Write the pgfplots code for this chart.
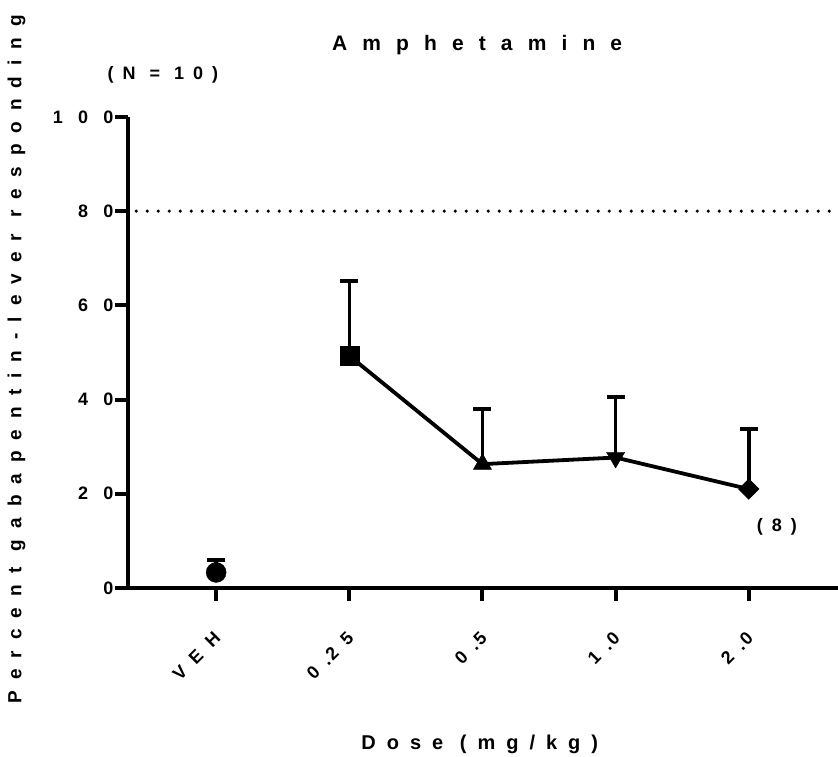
\documentclass[border=0pt]{standalone}
\usepackage{pgfplots}
\pgfplotsset{compat=1.18}
\usetikzlibrary{calc}
\usepackage{fontspec}
\setmainfont{Liberation Sans}
\newfontfamily\spA{Liberation Sans Bold}[LetterSpace=50]
\newfontfamily\spX{Liberation Sans Bold}[LetterSpace=60]
\newfontfamily\spYT{Liberation Sans Bold}[LetterSpace=85]
\newfontfamily\spB{Liberation Sans Bold}[LetterSpace=55]
\newfontfamily\spY{Liberation Sans Bold}[LetterSpace=58]
\newfontfamily\spT{Liberation Sans Bold}[LetterSpace=72]
\begin{document}
\begin{tikzpicture}
\begin{axis}[name=ax, scale only axis, width=710pt, height=471pt,
  xmin=-0.662, xmax=4.67, ymin=0, ymax=100,
  axis lines=left, axis line style={line width=4pt,-},
  ytick={0,20,...,100}, xtick={0,1,2,3,4},
  xticklabels={VEH,0\kern10pt.\kern1.5pt 25,0\kern10pt.\kern1.5pt 5,1\kern10pt.\kern1.5pt 0,2\kern10pt.\kern1.5pt 0},
  tick style={line width=4pt,black}, major tick length=13pt, tick align=outside,
  /pgf/number format/assume math mode=true,
  yticklabel style={font=\spYT\fontsize{18}{20}\selectfont, xshift=2pt},
  xticklabel style={font=\spX\fontsize{18}{20}\selectfont, rotate=45, anchor=east, xshift=-20pt, yshift=-25pt},
  clip=false]
\addplot[black, line width=3.5pt, dash pattern=on 0pt off 11pt, line cap=round] coordinates {(-0.6,80) (4.67,80)};
\addplot[black, line width=3.8pt, no marks] coordinates {(1,49.3) (2,26.3) (3,27.7) (4,21.0)};
\addplot[black, only marks, mark=*, mark size=10pt, error bars/.cd, y dir=plus, y explicit, error bar style={line width=3.5pt}, error mark options={line width=4pt, mark size=9pt, rotate=90}] coordinates {(0,3.3) +- (0,2.6)};
\addplot[black, only marks, mark=square*, mark size=9.5pt, error bars/.cd, y dir=plus, y explicit, error bar style={line width=3.5pt}, error mark options={line width=4pt, mark size=9pt, rotate=90}] coordinates {(1,49.3) +- (0,15.9)};
\addplot[black, only marks, mark=triangle*, mark size=10.5pt, error bars/.cd, y dir=plus, y explicit, error bar style={line width=3.5pt}, error mark options={line width=4pt, mark size=9pt, rotate=90}] coordinates {(2,26.3) +- (0,11.6)};
\addplot[black, only marks, mark=triangle*, mark options={rotate=180}, mark size=10.5pt, error bars/.cd, y dir=plus, y explicit, error bar style={line width=3.5pt}, error mark options={line width=4pt, mark size=9pt, rotate=90}] coordinates {(3,27.7) +- (0,12.8)};
\addplot[black, only marks, mark=square*, mark options={rotate=45}, mark size=7.3pt, error bars/.cd, y dir=plus, y explicit, error bar style={line width=3.5pt}, error mark options={line width=4pt, mark size=9pt, rotate=90}] coordinates {(4,21.0) +- (0,12.7)};
\node[font=\spA\fontsize{18}{20}\selectfont] at (axis cs:-0.40,108.9) {(N = 10)};
\node[font=\spA\fontsize{18}{20}\selectfont] at (axis cs:4.21,13.0) {(8)};
\node[font=\spT\fontsize{21}{24}\selectfont] at (axis cs:1.96,115.3) {Amphetamine};
\node[font=\spB\fontsize{20}{22}\selectfont] at (axis cs:1.98,-33.3) {Dose (mg/kg)};
\node[font=\spY\fontsize{19}{21}\selectfont, rotate=90] at (axis cs:-1.50,48.6) {Percent gabapentin-lever responding};
\end{axis}
\pgfresetboundingbox
\useasboundingbox ($(ax.south west)+(-128pt,-169pt)$) rectangle ($(ax.north east)+(0pt,117pt)$);
\end{tikzpicture}
\end{document}
